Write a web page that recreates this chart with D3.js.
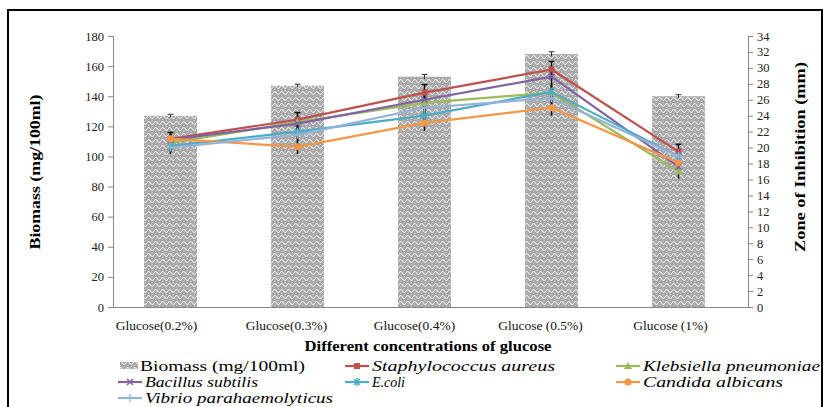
<!DOCTYPE html>
<html>
<head>
<meta charset="utf-8">
<script src="https://cdn.jsdelivr.net/npm/d3@7"></script>
<style>
  body { margin: 0; background: #fff; }
</style>
</head>
<body>
<svg id="viz" width="825" height="407"></svg>
<script>
const categories = ["Glucose(0.2%)", "Glucose(0.3%)", "Glucose(0.4%)", "Glucose (0.5%)", "Glucose (1%)"]
const biomass = [127, 147, 153, 168, 140]
const biomassErr = [1, 1, 1.5, 1.5, 1]
const staph = [21.1, 23.5, 26.9, 29.8, 19.5]
const klebs = [20.6, 23.2, 25.6, 26.9, 17.0]
const bacillus = [21.0, 23.0, 26.0, 28.9, 17.6]
const ecoli = [20.2, 22.0, 24.0, 27.0, 18.9]
const candida = [21.1, 20.1, 23.1, 25.0, 18.1]
const vibrio = [20.0, 21.6, 25.0, 26.2, 18.9]
const lineErr = [0.8, 0.9, 1.0, 1.0, 0.9]
const leftTicks = d3.range(0, 181, 20)
const rightTicks = d3.range(0, 35, 2)

const series = [
    {name: "Staphylococcus aureus", values: staph, color: "#C0504D", marker: "square"},
    {name: "Klebsiella pneumoniae", values: klebs, color: "#9BBB59", marker: "triangle"},
    {name: "Bacillus subtilis", values: bacillus, color: "#8064A2", marker: "x"},
    {name: "E.coli", values: ecoli, color: "#4BACC6", marker: "star"},
    {name: "Candida albicans", values: candida, color: "#F79646", marker: "circle"},
    {name: "Vibrio parahaemolyticus", values: vibrio, color: "#95B3D7", marker: "plus"}
]

const width = 825
const height = 407
const margin = {top: 36, right: 77, bottom: 100, left: 113}

const svg = d3.select("#viz")

// outer frame
svg.append("rect")
    .attr("x", 8).attr("y", 10)
    .attr("width", 814).attr("height", 420)
    .attr("fill", "none").attr("stroke", "#000").attr("stroke-width", 2)

// bar pattern
const defs = svg.append("defs")
const pat = defs.append("pattern")
    .attr("id", "weave")
    .attr("patternUnits", "userSpaceOnUse")
    .attr("width", 7).attr("height", 6)
pat.append("rect").attr("width", 7).attr("height", 6).attr("fill", "#a3a3a3")
pat.append("path")
    .attr("d", "M0,3 Q1.75,0 3.5,3 T7,3")
    .attr("fill", "none").attr("stroke", "#f2f2f2").attr("stroke-width", 1.2)
pat.append("path")
    .attr("d", "M1,6 L2.5,4.8 M4.5,1.2 L6,0")
    .attr("fill", "none").attr("stroke", "#e0e0e0").attr("stroke-width", 0.8)

const x = d3.scaleBand()
    .domain(categories)
    .range([margin.left, width - margin.right])

const yL = d3.scaleLinear().domain([0, 180]).range([height - margin.bottom, margin.top])
const yR = d3.scaleLinear().domain([0, 34]).range([height - margin.bottom, margin.top])

const barW = x.bandwidth() / 2.4
const cx = d => x(d) + x.bandwidth() / 2 - 6

// bars
svg.append("g")
    .selectAll("rect")
    .data(categories)
    .join("rect")
    .attr("x", d => cx(d) - barW / 2)
    .attr("y", (d, i) => yL(biomass[i]))
    .attr("width", barW)
    .attr("height", (d, i) => yL(0) - yL(biomass[i]))
    .attr("fill", "url(#weave)")

// bar error bars
const be = svg.append("g").attr("stroke", "#333").attr("stroke-width", 1)
categories.forEach((c, i) => {
    const xx = cx(c)
    be.append("line").attr("x1", xx).attr("x2", xx)
        .attr("y1", yL(biomass[i] + biomassErr[i])).attr("y2", yL(biomass[i] - biomassErr[i]))
    be.append("line").attr("x1", xx - 3).attr("x2", xx + 3)
        .attr("y1", yL(biomass[i] + biomassErr[i])).attr("y2", yL(biomass[i] + biomassErr[i]))
})

// axes
const axisColor = "#868686"
const gL = svg.append("g")
    .attr("transform", `translate(${margin.left},0)`)
    .call(d3.axisLeft(yL).tickValues(leftTicks).tickSize(5).tickPadding(4).tickSizeOuter(5))
gL.selectAll("path, line").attr("stroke", axisColor)
gL.selectAll("text").attr("font-size", 12.5).attr("fill", "#222")

const gR = svg.append("g")
    .attr("transform", `translate(${width - margin.right},0)`)
    .call(d3.axisRight(yR).tickValues(rightTicks).tickSize(5).tickPadding(4).tickSizeOuter(5))
gR.selectAll("path, line").attr("stroke", axisColor)
gR.selectAll("text").attr("font-size", 12.5).attr("fill", "#222")

const labelShift = [-14, -11, -10, -11, -8]
const gX = svg.append("g")
    .attr("transform", `translate(0,${height - margin.bottom})`)
    .call(d3.axisBottom(x).tickSize(0).tickPadding(13))
gX.select(".domain").attr("stroke", axisColor)
gX.selectAll(".tick").attr("transform", (d, i) => `translate(${cx(d) + labelShift[i]},0)`)
gX.selectAll("text").attr("font-size", 13.5).attr("fill", "#111")

// axis titles
svg.append("text")
    .attr("transform", `translate(40,${172}) rotate(-90)`)
    .attr("text-anchor", "middle")
    .attr("font-weight", "bold").attr("font-size", 14)
    .attr("textLength", 155).attr("lengthAdjust", "spacingAndGlyphs")
    .text("Biomass (mg/100ml)")

svg.append("text")
    .attr("transform", `translate(805,${157}) rotate(-90)`)
    .attr("text-anchor", "middle")
    .attr("font-weight", "bold").attr("font-size", 14)
    .attr("textLength", 190).attr("lengthAdjust", "spacingAndGlyphs")
    .text("Zone of Inhibition (mm)")

svg.append("text")
    .attr("x", 428).attr("y", 351)
    .attr("text-anchor", "middle")
    .attr("font-weight", "bold").attr("font-size", 14.5)
    .attr("textLength", 247).attr("lengthAdjust", "spacingAndGlyphs")
    .text("Different concentrations of glucose")

// marker drawing
const drawMarker = (g, type, color, px, py, s) => {
    if (type === "square") {
        g.append("rect").attr("x", px - s).attr("y", py - s).attr("width", 2 * s).attr("height", 2 * s).attr("fill", color)
    } else if (type === "triangle") {
        g.append("path").attr("d", `M${px},${py - s - 1}L${px + s + 1},${py + s}L${px - s - 1},${py + s}Z`).attr("fill", color)
    } else if (type === "circle") {
        g.append("circle").attr("cx", px).attr("cy", py).attr("r", s + 0.5).attr("fill", color)
    } else if (type === "x") {
        g.append("path").attr("d", `M${px - s},${py - s}L${px + s},${py + s}M${px - s},${py + s}L${px + s},${py - s}`)
            .attr("stroke", color).attr("stroke-width", 1.5)
    } else if (type === "star") {
        g.append("path").attr("d", `M${px - s},${py - s}L${px + s},${py + s}M${px - s},${py + s}L${px + s},${py - s}M${px},${py - s - 1}L${px},${py + s + 1}`)
            .attr("stroke", color).attr("stroke-width", 1.5)
    } else if (type === "plus") {
        g.append("path").attr("d", `M${px - s - 1},${py}L${px + s + 1},${py}M${px},${py - s - 1}L${px},${py + s + 1}`)
            .attr("stroke", color).attr("stroke-width", 1.5)
    }
}

const line = d3.line()
    .x((d, i) => cx(categories[i]))
    .y(d => yR(d))

// error bars for lines
const le = svg.append("g").attr("stroke", "#111").attr("stroke-width", 1.6)
series.forEach(s => {
    s.values.forEach((v, i) => {
        const xx = cx(categories[i])
        le.append("line").attr("x1", xx).attr("x2", xx)
            .attr("y1", yR(v + lineErr[i])).attr("y2", yR(v - lineErr[i]))
    })
})
categories.forEach((c, i) => {
    const vmax = d3.max(series, s => s.values[i])
    const xx = cx(c)
    le.append("line").attr("x1", xx - 3).attr("x2", xx + 3)
        .attr("y1", yR(vmax + lineErr[i])).attr("y2", yR(vmax + lineErr[i]))
})

// lines
series.forEach(s => {
    svg.append("path")
        .datum(s.values)
        .attr("d", line)
        .attr("fill", "none")
        .attr("stroke", s.color)
        .attr("stroke-width", 2.2)
    const g = svg.append("g")
    s.values.forEach((v, i) => drawMarker(g, s.marker, s.color, cx(categories[i]), yR(v), 3))
})

// legend
const legendItems = [
    {name: "Biomass (mg/100ml)", bar: true, x: 118, y: 366, w: 165},
    {s: series[0], x: 345, y: 366, w: 183},
    {s: series[1], x: 616, y: 366, w: 177},
    {s: series[2], x: 118, y: 382, w: 113},
    {s: series[3], x: 345, y: 382, w: 33},
    {s: series[4], x: 616, y: 382, w: 140},
    {s: series[5], x: 118, y: 398, w: 188}
]
const lg = svg.append("g")
legendItems.forEach(d => {
    if (d.bar) {
        lg.append("rect").attr("x", d.x + 2).attr("y", d.y - 4).attr("width", 18).attr("height", 7).attr("fill", "url(#weave)")
        lg.append("text").attr("x", d.x + 22).attr("y", d.y + 4.5)
            .attr("font-size", 14)
            .attr("textLength", d.w).attr("lengthAdjust", "spacingAndGlyphs")
            .text(d.name)
    } else {
        lg.append("line").attr("x1", d.x).attr("x2", d.x + 24).attr("y1", d.y).attr("y2", d.y)
            .attr("stroke", d.s.color).attr("stroke-width", 2.2)
        drawMarker(lg, d.s.marker, d.s.color, d.x + 12, d.y, 3)
        lg.append("text").attr("x", d.x + 27).attr("y", d.y + 4.5)
            .attr("font-size", 14).attr("font-style", "italic")
            .attr("textLength", d.w).attr("lengthAdjust", "spacingAndGlyphs")
            .text(d.s.name)
    }
})

// serif everywhere
svg.selectAll("text").style("font-family", "Liberation Serif")
</script>
</body>
</html>
